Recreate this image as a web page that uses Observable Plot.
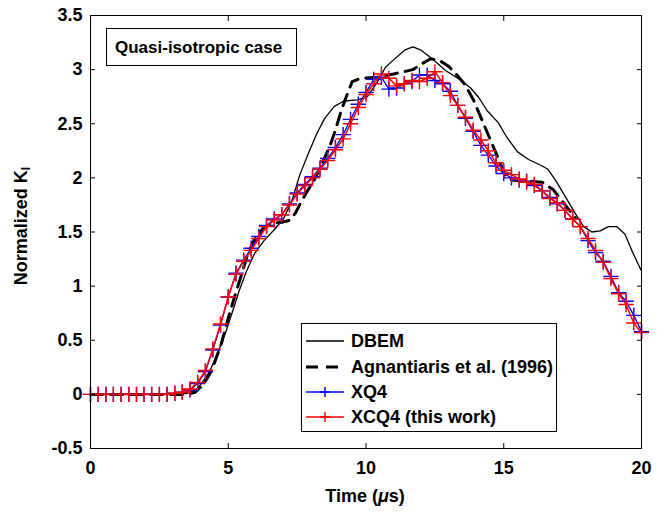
<!DOCTYPE html>
<html>
<head>
<meta charset="utf-8">
<script src="https://cdn.jsdelivr.net/npm/d3@7"></script>
<script src="https://cdn.jsdelivr.net/npm/@observablehq/plot@0.6"></script>
<style>
  html, body { margin: 0; padding: 0; background: #fff; }
  #wrap { position: relative; width: 667px; height: 513px; font-family: "Liberation Sans", Arial, Helvetica, sans-serif; font-weight: bold; color: #000; }
  #wrap svg { display: block; }
  .ov { position: absolute; white-space: nowrap; font-size: 18px; line-height: 1; }
  .box { position: absolute; background: #fff; border: 1px solid #000; box-sizing: border-box; }
  .row { position: absolute; left: 0; height: 24px; display: flex; align-items: center; }
  .row svg { margin-left: 3px; }
  .row span { margin-left: 6px; font-size: 18px; }
  sub { font-size: 12px; vertical-align: -3px; }
</style>
</head>
<body>
<div id="wrap"></div>
<script>
// ---------------- data ----------------
const timeFE = [0, 0.28, 0.56, 0.83, 1.11, 1.39, 1.67, 1.94, 2.22, 2.5, 2.78, 3.06, 3.33, 3.61, 3.89, 4.17, 4.44, 4.72, 5, 5.28, 5.56, 5.83, 6.11, 6.39, 6.67, 6.94, 7.22, 7.5, 7.78, 8.06, 8.33, 8.61, 8.89, 9.17, 9.44, 9.72, 10, 10.28, 10.56, 10.83, 11.11, 11.39, 11.67, 11.94, 12.22, 12.5, 12.78, 13.06, 13.33, 13.61, 13.89, 14.17, 14.44, 14.72, 15, 15.28, 15.56, 15.83, 16.11, 16.39, 16.67, 16.94, 17.22, 17.5, 17.78, 18.06, 18.33, 18.61, 18.89, 19.17, 19.44, 19.72, 20];
const kXQ4 = [0, 0, 0, 0, 0, 0, 0, 0, 0, 0, 0, 0.01, 0.02, 0.04, 0.10, 0.21, 0.41, 0.64, 0.90, 1.12, 1.24, 1.35, 1.46, 1.56, 1.62, 1.66, 1.76, 1.86, 1.94, 2.01, 2.09, 2.18, 2.28, 2.40, 2.54, 2.68, 2.79, 2.91, 2.93, 2.82, 2.83, 2.87, 2.89, 2.95, 2.95, 2.90, 2.87, 2.80, 2.67, 2.55, 2.43, 2.30, 2.21, 2.11, 2.04, 2.00, 1.98, 1.97, 1.93, 1.88, 1.82, 1.76, 1.70, 1.62, 1.55, 1.42, 1.31, 1.23, 1.09, 0.94, 0.86, 0.73, 0.58];
const kXCQ4 = [0, 0, 0, 0, 0, 0, 0, 0, 0, 0, 0, 0.01, 0.02, 0.05, 0.11, 0.22, 0.42, 0.65, 0.90, 1.11, 1.23, 1.33, 1.44, 1.55, 1.61, 1.66, 1.75, 1.85, 1.93, 2.00, 2.08, 2.16, 2.26, 2.36, 2.50, 2.65, 2.77, 2.87, 2.96, 2.92, 2.85, 2.87, 2.90, 2.89, 2.92, 2.98, 2.88, 2.76, 2.67, 2.56, 2.44, 2.35, 2.25, 2.14, 2.07, 2.03, 1.99, 1.96, 1.94, 1.88, 1.81, 1.77, 1.70, 1.62, 1.55, 1.44, 1.33, 1.22, 1.07, 0.93, 0.83, 0.66, 0.57];

const timeDBEM = [0, 3.2, 3.5, 3.8, 4.0, 4.3, 4.6, 4.9, 5.2, 5.4, 5.65, 5.95, 6.3, 6.7, 7.0, 7.3, 7.6, 7.9, 8.2, 8.5, 8.85, 9.2, 9.7, 10.05, 10.4, 10.7, 11.0, 11.4, 11.7, 12.0, 12.4, 12.9, 13.4, 13.8, 14.1, 14.4, 14.8, 15.1, 15.5, 15.9, 16.4, 16.6, 16.9, 17.25, 17.6, 17.9, 18.2, 18.5, 18.8, 19.1, 19.4, 19.7, 20];
const kDBEM = [0, 0, 0.01, 0.04, 0.09, 0.20, 0.37, 0.57, 0.80, 0.96, 1.13, 1.30, 1.42, 1.53, 1.62, 1.78, 2.03, 2.22, 2.40, 2.55, 2.66, 2.71, 2.72, 2.75, 2.88, 3.02, 3.09, 3.18, 3.21, 3.18, 3.10, 2.99, 2.91, 2.83, 2.74, 2.62, 2.51, 2.38, 2.24, 2.17, 2.11, 2.08, 1.97, 1.82, 1.67, 1.55, 1.50, 1.51, 1.55, 1.55, 1.48, 1.30, 1.14];

const timeAgn = [0, 3.5, 3.8, 4.1, 4.4, 4.75, 5.05, 5.3, 5.5, 5.7, 5.95, 6.25, 6.6, 6.95, 7.25, 7.45, 7.65, 7.85, 8.1, 8.4, 8.7, 8.9, 9.1, 9.3, 9.5, 9.8, 10.4, 11.0, 11.7, 12.0, 12.35, 12.7, 13.0, 13.3, 13.6, 13.9, 14.2, 14.5, 14.8, 15.05, 15.3, 15.8, 16.4, 16.8, 17.2, 17.6];
const kAgn = [0, 0, 0.02, 0.09, 0.22, 0.47, 0.75, 0.96, 1.12, 1.29, 1.43, 1.53, 1.58, 1.59, 1.61, 1.68, 1.78, 1.87, 1.97, 2.13, 2.30, 2.45, 2.62, 2.76, 2.89, 2.92, 2.93, 2.96, 3.00, 3.05, 3.10, 3.08, 3.03, 2.95, 2.86, 2.72, 2.54, 2.36, 2.18, 2.02, 1.98, 1.97, 1.96, 1.89, 1.76, 1.63];

const xTicks = [0, 5, 10, 15, 20];
const xTickLabels = ["0", "5", "10", "15", "20"];
const yTicks = [-0.5, 0, 0.5, 1, 1.5, 2, 2.5, 3, 3.5];
const yTickLabels = ["-0.5", "0", "0.5", "1", "1.5", "2", "2.5", "3", "3.5"];
const seriesNames = ["DBEM", "Agnantiaris et al. (1996)", "XQ4", "XCQ4 (this work)"];
const titleText = "Quasi-isotropic case";
const xLabelHTML = "Time (<i>&mu;</i>s)";
const yLabelHTML = "Normalized K<sub>I</sub>";

// ---------------- tables ----------------
const fe = timeFE.map((t, i) => ({t, xq4: kXQ4[i], xcq4: kXCQ4[i]}));
const dbem = timeDBEM.map((t, i) => ({t, k: kDBEM[i]}));
const agn = timeAgn.map((t, i) => ({t, k: kAgn[i]}));

const FONT = '"Liberation Sans", Arial, Helvetica, sans-serif';
const BLUE = "#0000ff", RED = "#ff0000";

const chart = Plot.plot({
  width: 667,
  height: 513,
  marginLeft: 90,
  marginRight: 26,
  marginTop: 15,
  marginBottom: 65,
  style: {fontFamily: FONT, fontSize: "18px", fontWeight: "bold", color: "#000", background: "#fff", overflow: "visible"},
  x: {domain: [0, 20]},
  y: {domain: [-0.5, 3.5]},
  marks: [
    Plot.line(dbem, {x: "t", y: "k", stroke: "#000", strokeWidth: 1.3}),
    Plot.line(agn, {x: "t", y: "k", stroke: "#000", strokeWidth: 3, strokeDasharray: "12,8"}),
    Plot.line(fe, {x: "t", y: "xq4", stroke: BLUE, strokeWidth: 1.3}),
    Plot.dot(fe, {x: "t", y: "xq4", symbol: "plus", r: 5, stroke: BLUE, strokeWidth: 1.4}),
    Plot.line(fe, {x: "t", y: "xcq4", stroke: RED, strokeWidth: 1.5}),
    Plot.dot(fe, {x: "t", y: "xcq4", symbol: "plus", r: 5, stroke: RED, strokeWidth: 1.4}),
    Plot.frame({stroke: "#000", strokeWidth: 1}),
    Plot.axisX({anchor: "bottom", ticks: xTicks, tickSize: -5, tickPadding: 18, label: null,
      tickFormat: d => xTickLabels[xTicks.indexOf(d)], fill: "#000"}),
    Plot.axisX({anchor: "top", ticks: xTicks, tickSize: -5, label: null, tickFormat: () => ""}),
    Plot.axisY({anchor: "left", ticks: yTicks, tickSize: -5, tickPadding: 13, label: null,
      tickFormat: d => yTickLabels[yTicks.indexOf(d)], fill: "#000"}),
    Plot.axisY({anchor: "right", ticks: yTicks, tickSize: -5, label: null, tickFormat: () => ""})
  ]
});

const wrap = document.getElementById("wrap");
wrap.appendChild(chart);

// axis labels
const xl = document.createElement("div");
xl.className = "ov";
xl.innerHTML = xLabelHTML;
xl.style.left = "365px"; xl.style.top = "496px";
xl.style.transform = "translate(-50%, -50%)";
wrap.appendChild(xl);

const yl = document.createElement("div");
yl.className = "ov";
yl.innerHTML = yLabelHTML;
yl.style.left = "22px"; yl.style.top = "226px";
yl.style.transform = "translate(-50%, -50%) rotate(-90deg)";
wrap.appendChild(yl);

// title box
const tb = document.createElement("div");
tb.className = "box";
Object.assign(tb.style, {left: "106px", top: "28px", width: "191px", height: "38px"});
const tt = document.createElement("div");
tt.className = "ov";
tt.textContent = titleText;
Object.assign(tt.style, {left: "8px", top: "50%", transform: "translateY(-50%)", fontSize: "17px"});
tb.appendChild(tt);
wrap.appendChild(tb);

// legend
const styles = [
  {stroke: "#000", width: 1.3, dash: null, marker: false},
  {stroke: "#000", width: 3, dash: "12,8", marker: false},
  {stroke: BLUE, width: 1.5, dash: null, marker: true},
  {stroke: RED, width: 1.5, dash: null, marker: true}
];
const lg = document.createElement("div");
lg.className = "box";
Object.assign(lg.style, {left: "301px", top: "323px", width: "256px", height: "109px"});
const rowCenters = [17, 43, 68, 93];
seriesNames.forEach((name, i) => {
  const s = styles[i];
  const row = document.createElement("div");
  row.className = "row";
  row.style.top = (rowCenters[i] - 12) + "px";
  const svgNS = "http://www.w3.org/2000/svg";
  const sv = document.createElementNS(svgNS, "svg");
  sv.setAttribute("width", "40"); sv.setAttribute("height", "14");
  const ln = document.createElementNS(svgNS, "line");
  ln.setAttribute("x1", "1"); ln.setAttribute("x2", "39");
  ln.setAttribute("y1", "7"); ln.setAttribute("y2", "7");
  ln.setAttribute("stroke", s.stroke); ln.setAttribute("stroke-width", s.width);
  if (s.dash) ln.setAttribute("stroke-dasharray", s.dash);
  sv.appendChild(ln);
  if (s.marker) {
    const p = document.createElementNS(svgNS, "path");
    p.setAttribute("d", "M20,2V12M15,7H25");
    p.setAttribute("stroke", s.stroke); p.setAttribute("stroke-width", "1.5"); p.setAttribute("fill", "none");
    sv.appendChild(p);
  }
  row.appendChild(sv);
  const sp = document.createElement("span");
  sp.textContent = name;
  row.appendChild(sp);
  lg.appendChild(row);
});
wrap.appendChild(lg);
</script>
</body>
</html>
